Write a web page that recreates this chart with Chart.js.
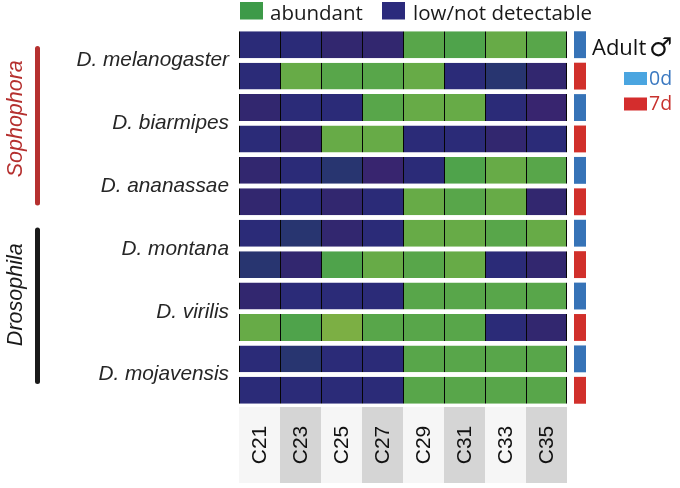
<!DOCTYPE html>
<html><head><meta charset="utf-8">
<script src="https://cdn.jsdelivr.net/npm/chart.js@4"></script>
<style>html,body{margin:0;padding:0;background:#fff}#wrap{width:680px;height:488px;position:relative}</style>
</head><body><div id="wrap"><canvas id="c"></canvas></div>
<script>
// ---- data ----
const columns = ['C21','C23','C25','C27','C29','C31','C33','C35'];
const species = ['D. melanogaster','D. biarmipes','D. ananassae','D. montana','D. virilis','D. mojavensis'];
const ages = ['0d','7d'];
// abundance shade codes per species/age (G/L/D/Y = abundant greens, B/P/Q/S = low/not detectable blues)
const melanogaster_0d = ['B','B','P','P','G','D','L','G'];
const melanogaster_7d = ['B','L','G','G','L','B','S','P'];
const biarmipes_0d    = ['P','B','B','G','L','L','B','Q'];
const biarmipes_7d    = ['B','P','L','L','B','B','P','B'];
const ananassae_0d    = ['P','B','S','Q','B','D','L','G'];
const ananassae_7d    = ['P','B','P','B','L','G','L','P'];
const montana_0d      = ['B','S','P','B','L','L','G','L'];
const montana_7d      = ['S','P','D','L','G','L','B','P'];
const virilis_0d      = ['P','B','B','B','G','G','G','G'];
const virilis_7d      = ['L','D','Y','G','G','G','B','P'];
const mojavensis_0d   = ['B','S','B','B','G','G','G','G'];
const mojavensis_7d   = ['B','B','B','B','G','G','G','G'];
const groupNames = ['Sophophora','Drosophila'];
const groupSpecies = [[0,1,2],[3,4,5]];
const legendLabels = ['abundant','low/not detectable'];

// ---- styles ----
const palette = {G:'#58a64a',L:'#67ab47',D:'#4fa34b',Y:'#7caf44',B:'#2b2b78',P:'#32276f',Q:'#38256f',S:'#283570'};
const ageColors = {'0d':'#3673b7','7d':'#d1302b'};
const rowCodes = [melanogaster_0d,melanogaster_7d,biarmipes_0d,biarmipes_7d,ananassae_0d,ananassae_7d,
                  montana_0d,montana_7d,virilis_0d,virilis_7d,mojavensis_0d,mojavensis_7d];
const rowLabels = [];
species.forEach(s=>ages.forEach(a=>rowLabels.push(s+' '+a)));
const rowAges = rowLabels.map((_,i)=>ages[i%2]);

const MARK_START = 8.17, MARK_END = 347/41;
const datasets = columns.map((c,ci)=>({
  label:c,
  data: rowCodes.map(()=>[ci, ci+1]),
  backgroundColor: rowCodes.map(r=>palette[r[ci]]),
  borderColor:'#050505',
  borderWidth:{left:1,right:ci===columns.length-1?1:0,top:0,bottom:0},
  borderSkipped:false,
  grouped:false,
  barPercentage:0.855,
  categoryPercentage:1
}));
datasets.push({
  label:'age',
  data: rowCodes.map(()=>[MARK_START, MARK_END]),
  backgroundColor: rowAges.map(a=>ageColors[a]),
  borderWidth:0, grouped:false, barPercentage:0.855, categoryPercentage:1
});

const decor = {
  id:'decor',
  beforeDatasetsDraw(chart){
    const ctx=chart.ctx, x=chart.scales.x, ca=chart.chartArea;
    ctx.save();
    columns.forEach((c,i)=>{
      const x0=x.getPixelForValue(i), x1=x.getPixelForValue(i+1);
      ctx.fillStyle = i%2===0 ? '#f6f6f6' : '#d5d5d5';
      ctx.fillRect(x0, ca.bottom+1, x1-x0, 76);
    });
    ctx.restore();
  },
  afterDraw(chart){
    const ctx=chart.ctx, x=chart.scales.x, y=chart.scales.y, ca=chart.chartArea;
    ctx.save();
    // column labels
    ctx.fillStyle='#111';
    ctx.font='21px "Liberation Sans", Arial, sans-serif';
    ctx.textAlign='center'; ctx.textBaseline='middle';
    columns.forEach((c,i)=>{
      const cx=x.getPixelForValue(i+0.5);
      ctx.save(); ctx.translate(cx+1, ca.bottom+39); ctx.rotate(-Math.PI/2);
      ctx.fillText(c,0,0); ctx.restore();
    });
    // species labels
    ctx.font='italic 20.8px "Liberation Sans", Arial, sans-serif';
    ctx.fillStyle='#262626';
    ctx.textAlign='right';
    const mids = species.map((s,i)=>(y.getPixelForValue(2*i)+y.getPixelForValue(2*i+1))/2);
    species.forEach((s,i)=>ctx.fillText(s, 229, mids[i]));
    // groups
    const gColors=['#b5302f','#1a1a1a'];
    const gExt=[[-14,19],[-21,9]];
    groupNames.forEach((g,gi)=>{
      const sp=groupSpecies[gi];
      const top=mids[sp[0]]+gExt[gi][0], bot=mids[sp[sp.length-1]]+gExt[gi][1];
      ctx.strokeStyle=gColors[gi]; ctx.lineWidth=5; ctx.lineCap='round';
      ctx.beginPath(); ctx.moveTo(37.5, top+2); ctx.lineTo(37.5, bot-2); ctx.stroke();
      ctx.save(); ctx.translate(16,(top+bot)/2 - (gi===0?7:11)); ctx.rotate(-Math.PI/2);
      ctx.fillStyle=gColors[gi]; ctx.font='italic 21.5px "Liberation Sans", Arial, sans-serif';
      ctx.textAlign='center'; ctx.textBaseline='middle';
      ctx.fillText(g,0,0); ctx.restore();
    });
    // top legend
    ctx.textAlign='left'; ctx.textBaseline='alphabetic';
    ctx.font='20.5px "Open Sans", sans-serif';
    ctx.fillStyle='#3d9a48'; ctx.fillRect(240,2,23,17.5);
    ctx.fillStyle='#1a1a1a'; ctx.fillText(legendLabels[0],270,19.5);
    ctx.fillStyle='#2b2a7c'; ctx.fillRect(382,2,23,17.5);
    ctx.fillStyle='#1a1a1a'; ctx.fillText(legendLabels[1],413,19.5);
    // right legend
    ctx.font='22px "Open Sans", sans-serif';
    ctx.fillStyle='#111';
    ctx.fillText('Adult',592,54.5);
    ctx.font='26px "DejaVu Sans", sans-serif';
    ctx.fillText('\u2642',649,56);
    ctx.font='19.5px "Open Sans", sans-serif';
    ctx.fillStyle='#4aa5e0'; ctx.fillRect(624,72,23,13);
    ctx.fillStyle='#3a78c0'; ctx.fillText(ages[0],649,84.5);
    ctx.fillStyle='#d42d2d'; ctx.fillRect(624,97.5,23,13);
    ctx.fillStyle='#c8322e'; ctx.fillText(ages[1],649,110);
    ctx.restore();
  }
};

new Chart(document.getElementById('c'),{
  type:'bar',
  data:{labels:rowLabels, datasets},
  options:{
    indexAxis:'y', responsive:true, maintainAspectRatio:false, animation:false,
    layout:{padding:{left:239,right:94,top:29,bottom:82}},
    scales:{
      x:{type:'linear',min:0,max:MARK_END,display:false},
      y:{type:'category',display:false,offset:true}
    },
    plugins:{legend:{display:false},tooltip:{enabled:false}}
  },
  plugins:[decor]
});
</script></body></html>
